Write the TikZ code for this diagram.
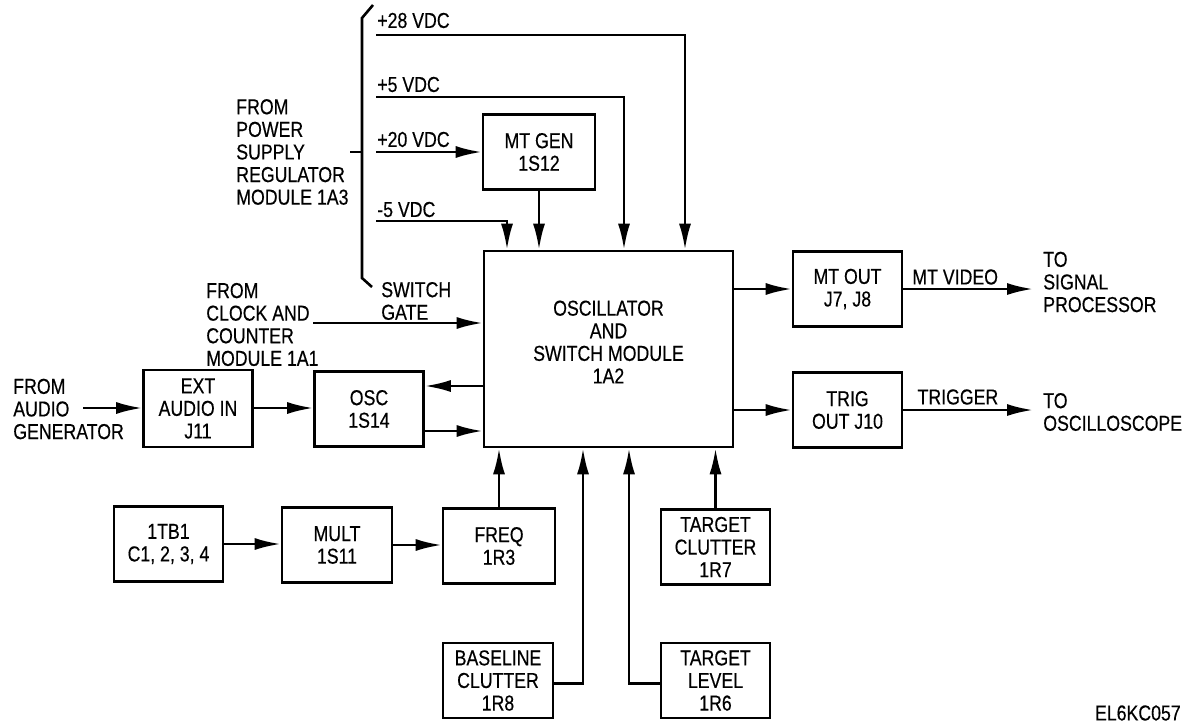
\documentclass[tikz,border=0pt]{standalone}
\usepackage{fontspec}
\setmainfont{Liberation Sans}[FakeStretch=0.82, FakeBold=0.4]
\usepackage{tikz}
\usetikzlibrary{shapes, arrows, arrows.meta}
\tikzstyle{block} = [draw, rectangle, line width=1.3pt, minimum height=37.5pt, minimum width=54.5pt, inner sep=1pt, align=center]
\tikzstyle{input} = [coordinate]
\tikzstyle{output} = [coordinate]

\begin{document}
\begin{tikzpicture}[x=0.5pt, y=-0.5pt, line width=1.3pt, >={Latex[length=13pt, width=6pt]}, font=\fontsize{10.8}{11.3}\selectfont]
        % 样式定义
        \tikzstyle{txt} = [inner sep=0pt, align=left, anchor=west]
        \useasboundingbox (0,0) rectangle (1186,723);

        % 放置节点
        \node [block, minimum width=124.5pt, minimum height=98pt] (osw) at (608.5,349) {};
        \node [align=center, inner sep=0pt] (oswtxt) at ([yshift=3.5pt]osw.center) {OSCILLATOR\\AND\\SWITCH MODULE\\1A2};
        \node [block, minimum width=56pt] (mtgen) at (539,152) {MT GEN\\1S12};
        \node [block, minimum height=38.5pt] (extin) at (198,408.5) {EXT\\AUDIO IN\\J11};
        \node [block] (osc) at (369,409) {OSC\\1S14};
        \node [block] (tb) at (168.5,544) {1TB1\\C1, 2, 3, 4};
        \node [block, minimum width=55pt] (mult) at (337,545) {MULT\\1S11};
        \node [block, minimum width=56pt] (freq) at (499,546) {FREQ\\1R3};
        \node [block] (tclut) at (715.5,547) {TARGET\\CLUTTER\\1R7};
        \node [block, minimum width=55pt] (base) at (498,680.5) {BASELINE\\CLUTTER\\1R8};
        \node [block] (tlevel) at (715.5,680.5) {TARGET\\LEVEL\\1R6};
        \node [block] (mtout) at (847.5,289) {MT OUT\\J7, J8};
        \node [block] (trig) at (847.5,410) {TRIG\\OUT J10};

        \node [input, name=p28] at (376,35) {};
        \node [input, name=p5] at (376,97) {};
        \node [input, name=p20] at (376,152) {};
        \node [input, name=m5] at (376,221) {};
        \node [input, name=sg] at (313,323) {};
        \node [input, name=audio] at (83,408) {};
        \node [output, name=tosig] at (1033,289) {};
        \node [output, name=toscope] at (1033,410) {};

        \node [txt] (l28) at (376,20.5) {+28 VDC};
        \node [txt] (l5) at (376,84.5) {+5 VDC};
        \node [txt] (l20) at (376,139.5) {+20 VDC};
        \node [txt] (lm5) at (376,209.5) {-5 VDC};
        \node [txt] (frompwr) at (235,152) {FROM\\POWER\\SUPPLY\\REGULATOR\\MODULE 1A3};
        \node [txt] (swgate) at (380,301) {SWITCH\\GATE};
        \node [txt] (fromclk) at (205,324.5) {FROM\\CLOCK AND\\COUNTER\\MODULE 1A1};
        \node [txt] (fromaud) at (12,409) {FROM\\AUDIO\\GENERATOR};
        \node [txt] (tosp) at (1042,282) {TO\\SIGNAL\\PROCESSOR};
        \node [txt] (tosc) at (1042,412) {TO\\OSCILLOSCOPE};
        \node [txt, anchor=east] (figid) at (1182,713) {EL6KC057};

        % 电源输入
        \draw (373,5) -- (362,18) -- (362,278) -- (372,287);
        \draw (350,152) -- (362,152);
        \draw [->] (p28) -| (685,0 |- osw.north);
        \draw [->] (p5) -| (624,0 |- osw.north);
        \draw [->] (p20) -- (mtgen.west);
        \draw [->] (m5) -| (507,0 |- osw.north);
        \draw [->] (mtgen.south) -- (mtgen.south |- osw.north);

        \draw [->] (sg) -- (sg -| osw.west);
        \draw [->] (audio) -- (extin.west |- audio);
        \draw [->] (extin.east |- audio) -- (osc.west |- audio);
        \draw [<-] ([yshift=11.5pt]osc.east) -- ([yshift=11.5pt]osc.east -| osw.west);
        \draw [->] ([yshift=-11pt]osc.east) -- ([yshift=-11pt]osc.east -| osw.west);

        \draw [->] (osw.east |- mtout) -- (mtout.west);
        \draw [->] (osw.east |- trig) -- (trig.west);
        \draw [->] (mtout.east) -- node [txt, pos=0.06, yshift=6pt] {MT VIDEO} (tosig);
        \draw [->] (trig.east) -- node [txt, pos=0.1, yshift=6.5pt] {TRIGGER} (toscope);

        \draw [->] (tb.east) -- (mult.west |- tb.east);
        \draw [->] (mult.east) -- (freq.west |- mult.east);
        \draw [->] (freq.north) -- (freq.north |- osw.south);
        \draw [->] (tclut.north) -- (tclut.north |- osw.south);
        \draw [->] ([yshift=-1.5pt]base.east) -| (583,0 |- osw.south);
        \draw [->] ([yshift=-1.5pt]tlevel.west) -| (629,0 |- osw.south);
    \end{tikzpicture}
\end{document}
